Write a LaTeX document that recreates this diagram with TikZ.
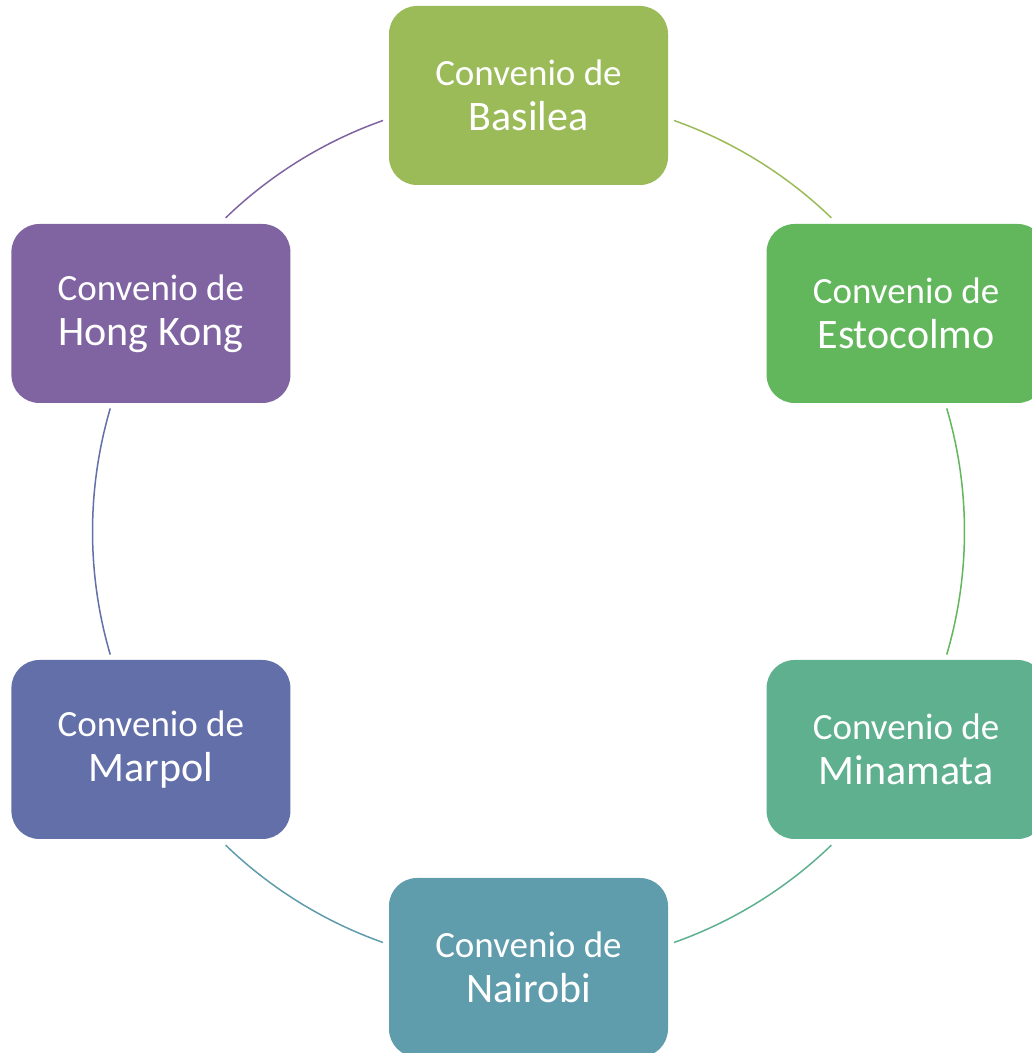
\documentclass[tikz,border=0pt]{standalone}
\usepackage{fontspec}
\setmainfont{Carlito}
\usetikzlibrary{positioning}

\definecolor{basilea}{HTML}{9BBB59}
\definecolor{estocolmo}{HTML}{62B65C}
\definecolor{minamata}{HTML}{5EB08F}
\definecolor{nairobi}{HTML}{5F9CAC}
\definecolor{marpol}{HTML}{626FA8}
\definecolor{hongkong}{HTML}{8064A2}

\tikzset{
  convbox/.style={rounded corners=28pt, minimum width=279pt, minimum height=179pt,
    inner sep=0pt, align=center, text=white, font=\fontsize{37}{45}\selectfont},
  ring/.style={line width=1.5pt}
}
\newcommand{\convtext}[1]{Convenio de\\
  \fontsize{42}{45}\selectfont #1}

\begin{document}
\begin{tikzpicture}[x=1pt,y=1pt]
      %% \draw [help lines, opacity=0.5] (0,0) grid [step=50] (1032,1053);
      \useasboundingbox (0,0) rectangle (1032,1053);
      \clip (0,0) rectangle (1032,1053);
      \coordinate (c) at (528.5,521.5);

      % the six boxes, clockwise from the top
      \foreach \a/\name/\col/\txt in {90/bas/basilea/Basilea,
          30/est/estocolmo/Estocolmo, -30/min/minamata/Minamata,
          -90/nai/nairobi/Nairobi, -150/mar/marpol/Marpol,
          150/hk/hongkong/Hong Kong}
        \node [convbox, fill=\col] (\name) at ([shift={(\a:436)}]c) {\convtext{\txt}};

      % arcs of the ring between the boxes
      \foreach \s/\e/\col in {70.5/46/basilea, 16.4/-16.4/estocolmo,
          -46/-70.5/minamata, -109.5/-134/nairobi,
          -163.6/-196.4/marpol, -226/-250.5/hongkong}
        \draw [ring, \col] ([shift={(\s:436)}]c) arc [start angle=\s, end angle=\e, radius=436];
\end{tikzpicture}
\end{document}
